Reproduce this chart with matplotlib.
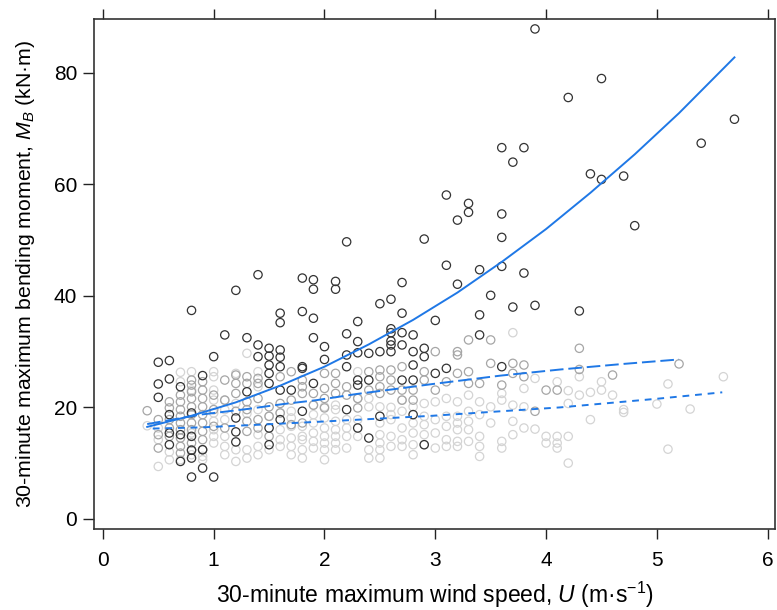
import numpy as np
import matplotlib
matplotlib.use('Agg')
import matplotlib.pyplot as plt

plt.rcParams['font.family'] = ['Liberation Sans', 'DejaVu Sans']
plt.rcParams['mathtext.fontset'] = 'custom'
plt.rcParams['mathtext.it'] = 'Liberation Sans:italic'
plt.rcParams['mathtext.rm'] = 'Liberation Sans'

# wind speed U (m/s), bending moment MB (kN m) - dark points
dark_pts = [
    (0.5, 28.1), (0.6, 28.4), (0.5, 24.2), (0.6, 25.1), (0.5, 21.8), (0.7, 23.7),
    (0.9, 25.7), (1.0, 29.1), (0.6, 13.3), (0.7, 10.3), (0.8, 10.9), (0.8, 7.5),
    (1.0, 7.5), (0.9, 9.1), (0.8, 37.4), (0.6, 18.7), (0.6, 15.4), (0.8, 14.8),
    (0.8, 12.3), (0.7, 15.1), (0.9, 12.4), (0.8, 19.0),
    (1.1, 33.0), (1.2, 41.0), (1.3, 32.5), (1.4, 43.8), (1.4, 31.2), (1.4, 29.1),
    (1.5, 30.6), (1.5, 29.2), (1.5, 27.6), (1.5, 26.1), (1.5, 24.3),
    (1.6, 36.9), (1.6, 35.2), (1.6, 30.3), (1.6, 29.0), (1.6, 27.3), (1.6, 23.1),
    (1.6, 17.8), (1.3, 22.8), (1.2, 18.1), (1.2, 15.6), (1.2, 13.8), (1.5, 16.3),
    (1.5, 13.3), (1.7, 23.1),
    (1.8, 43.2), (1.8, 37.2), (1.8, 27.3), (1.8, 27.0), (1.8, 19.3),
    (1.9, 42.9), (1.9, 41.2), (1.9, 36.0), (1.9, 32.5), (1.9, 24.3),
    (2.0, 30.9), (2.0, 28.6), (2.1, 42.6), (2.1, 41.2),
    (2.2, 49.7), (2.2, 33.2), (2.2, 29.4), (2.2, 27.3), (2.2, 19.6),
    (2.3, 35.4), (2.3, 31.8), (2.3, 29.8), (2.3, 24.9), (2.3, 24.0), (2.3, 16.3),
    (2.4, 29.7), (2.4, 24.9), (2.4, 14.5),
    (2.5, 38.6), (2.5, 30.0), (2.5, 18.4),
    (2.6, 39.4), (2.6, 34.1), (2.6, 33.4), (2.6, 31.9), (2.6, 31.2), (2.6, 30.0),
    (2.7, 42.4), (2.7, 36.9), (2.7, 33.4), (2.7, 31.2), (2.7, 24.9),
    (2.8, 33.0), (2.8, 30.0), (2.8, 27.6), (2.8, 24.9), (2.8, 18.7),
    (2.9, 50.2), (2.9, 30.6), (2.9, 29.1), (2.9, 13.3),
    (3.0, 35.6), (3.0, 26.1), (3.1, 58.1), (3.1, 45.5), (3.1, 27.0),
    (3.2, 53.6), (3.2, 42.1), (3.3, 56.6), (3.3, 55.0),
    (3.4, 44.7), (3.4, 36.6), (3.4, 33.0), (3.5, 40.1),
    (3.6, 66.6), (3.6, 54.7), (3.6, 50.5), (3.6, 45.3), (3.6, 27.3),
    (3.7, 64.0), (3.7, 38.0), (3.8, 66.6), (3.8, 44.1), (3.9, 87.9), (3.9, 38.3),
    (4.2, 75.6), (4.3, 37.3), (4.4, 61.9), (4.5, 79.0), (4.5, 60.9), (4.7, 61.5),
    (4.8, 52.6), (5.4, 67.4), (5.7, 71.7),
]

# medium grey points
mid_pts = [
    (0.4, 19.4), (0.5, 17.8), (0.5, 15.1), (0.5, 12.7),
    (0.6, 21.0), (0.6, 19.9), (0.6, 17.8), (0.6, 16.3), (0.6, 14.8),
    (0.7, 22.2), (0.7, 21.0), (0.7, 19.6), (0.7, 18.4), (0.7, 17.2), (0.7, 16.0),
    (0.7, 14.5), (0.7, 13.0), (0.7, 11.8),
    (0.8, 24.9), (0.8, 24.0), (0.8, 22.8), (0.8, 21.6), (0.8, 20.1), (0.8, 18.7),
    (0.8, 17.2), (0.8, 16.0), (0.8, 13.6), (0.8, 12.4),
    (0.9, 24.6), (0.9, 23.1), (0.9, 21.6), (0.9, 20.1), (0.9, 18.7), (0.9, 17.2),
    (0.9, 15.7), (0.9, 14.2), (0.9, 12.4),
    (1.0, 22.2), (1.0, 19.6), (1.0, 16.6), (1.1, 24.9), (1.1, 21.3), (1.1, 16.3),
    (1.2, 25.8), (1.2, 24.3), (1.2, 22.5), (1.2, 19.3),
    (1.3, 25.5), (1.3, 24.3), (1.3, 21.0), (1.3, 19.6), (1.3, 17.5), (1.3, 15.7),
    (1.4, 25.2), (1.4, 24.3), (1.4, 21.6), (1.4, 17.8), (1.4, 16.3),
    (1.5, 20.1), (1.5, 18.4), (1.5, 14.8), (1.6, 25.5), (1.6, 20.7), (1.6, 19.0),
    (1.7, 26.4), (1.7, 21.3), (1.7, 16.9), (1.8, 24.9), (1.8, 23.7), (1.8, 22.5),
    (1.8, 17.2), (1.9, 22.5), (1.9, 20.4), (2.0, 26.1), (2.0, 23.4), (2.0, 21.6),
    (2.0, 19.9), (2.1, 26.1), (2.1, 24.3), (2.1, 22.5), (2.2, 23.7), (2.2, 22.2),
    (2.3, 21.6), (2.3, 19.9), (2.4, 26.4), (2.4, 23.1),
    (2.5, 26.7), (2.5, 25.5), (2.5, 23.7), (2.5, 22.5), (2.6, 26.7), (2.6, 24.9),
    (2.6, 23.1), (2.7, 27.3), (2.7, 23.1), (2.7, 21.3), (2.8, 23.1), (2.8, 21.3),
    (2.9, 26.4), (2.9, 24.9), (3.0, 30.0), (3.0, 23.1), (3.1, 24.6),
    (3.2, 30.0), (3.2, 29.4), (3.2, 26.1), (3.3, 32.1), (3.3, 26.4), (3.3, 24.3),
    (3.4, 24.3), (3.5, 32.1), (3.5, 27.9), (3.6, 24.0), (3.7, 27.9), (3.7, 26.1),
    (3.8, 27.6), (3.8, 25.5), (3.9, 19.3), (4.0, 23.1), (4.1, 23.1),
    (4.3, 30.6), (4.3, 26.8), (4.6, 25.8), (5.2, 27.8),
]

# light grey points
light_pts = [
    (0.4, 16.7), (0.5, 16.3), (0.5, 14.2), (0.5, 9.4), (0.6, 10.6), (0.6, 12.0),
    (0.7, 26.3), (0.7, 24.6), (0.7, 10.6), (0.8, 26.4), (0.8, 23.1), (0.8, 15.4),
    (0.8, 11.5), (0.9, 11.2), (0.9, 10.6),
    (1.0, 26.4), (1.0, 25.5), (1.0, 23.1), (1.0, 21.3), (1.0, 19.0), (1.0, 17.5),
    (1.0, 16.0), (1.0, 14.8), (1.0, 13.6),
    (1.1, 21.3), (1.1, 19.6), (1.1, 17.8), (1.1, 14.8), (1.1, 13.0), (1.1, 11.5),
    (1.2, 26.1), (1.2, 20.7), (1.2, 12.4), (1.2, 10.3),
    (1.3, 29.7), (1.3, 18.9), (1.3, 12.4), (1.3, 10.9),
    (1.4, 26.4), (1.4, 23.7), (1.4, 19.6), (1.4, 15.1), (1.4, 13.0), (1.4, 11.5),
    (1.5, 18.4), (1.5, 12.4), (1.6, 19.0), (1.6, 16.0), (1.6, 14.2), (1.6, 13.0),
    (1.7, 19.3), (1.7, 18.1), (1.7, 16.6), (1.7, 14.5), (1.7, 13.0), (1.7, 11.5),
    (1.8, 16.6), (1.8, 14.8), (1.8, 14.2), (1.8, 12.4), (1.8, 10.9),
    (1.9, 20.4), (1.9, 18.7), (1.9, 17.2), (1.9, 15.4), (1.9, 13.9), (1.9, 12.7),
    (2.0, 20.1), (2.0, 18.1), (2.0, 16.3), (2.0, 14.8), (2.0, 13.6), (2.0, 12.4),
    (2.0, 10.6), (2.1, 20.4), (2.1, 19.6), (2.1, 17.5), (2.1, 16.0), (2.1, 14.8),
    (2.1, 13.6), (2.1, 12.4), (2.2, 17.8), (2.2, 16.3), (2.2, 14.8), (2.2, 12.7),
    (2.3, 26.4), (2.3, 21.6), (2.3, 17.8), (2.3, 14.8),
    (2.4, 21.6), (2.4, 20.1), (2.4, 12.4), (2.4, 10.9),
    (2.5, 20.1), (2.5, 17.2), (2.5, 15.1), (2.5, 13.6), (2.5, 12.4), (2.5, 10.9),
    (2.6, 20.0), (2.6, 18.7), (2.6, 17.8), (2.6, 14.8), (2.6, 13.0),
    (2.7, 21.3), (2.7, 19.3), (2.7, 16.3), (2.7, 14.2), (2.7, 13.0),
    (2.8, 20.1), (2.8, 17.2), (2.8, 15.4), (2.8, 13.3), (2.8, 11.5),
    (2.9, 20.7), (2.9, 18.4), (2.9, 16.9), (2.9, 15.1), (2.9, 13.3),
    (3.0, 21.0), (3.0, 17.8), (3.0, 15.4), (3.0, 12.7),
    (3.1, 21.6), (3.1, 18.4), (3.1, 16.6), (3.1, 14.2), (3.1, 13.0),
    (3.2, 21.0), (3.2, 18.4), (3.2, 17.2), (3.2, 16.0), (3.2, 13.9), (3.2, 13.0),
    (3.3, 22.2), (3.3, 19.3), (3.3, 17.5), (3.3, 16.0), (3.3, 13.9),
    (3.4, 21.0), (3.4, 18.7), (3.4, 14.8), (3.4, 13.0), (3.4, 11.2),
    (3.5, 20.1), (3.5, 17.2), (3.6, 22.5), (3.6, 21.3), (3.6, 13.9), (3.6, 12.7),
    (3.7, 33.4), (3.7, 20.4), (3.7, 17.5), (3.7, 15.1), (3.8, 23.4), (3.8, 20.1),
    (3.8, 16.3), (3.9, 25.2), (3.9, 16.1), (4.0, 14.8), (4.0, 13.6),
    (4.1, 24.6), (4.1, 14.8), (4.1, 13.6), (4.1, 12.7),
    (4.2, 23.0), (4.2, 20.7), (4.2, 14.8), (4.2, 10.0), (4.3, 25.5), (4.3, 22.2),
    (4.4, 22.7), (4.4, 17.8), (4.5, 24.6), (4.5, 23.1), (4.6, 22.2),
    (4.7, 19.6), (4.7, 19.1), (5.0, 20.6), (5.1, 24.2), (5.1, 12.5),
    (5.3, 19.7), (5.6, 25.5),
]

# fitted curves
solid_u = [0.4, 0.8, 1.2, 1.6, 2.0, 2.4, 2.8, 3.2, 3.6, 4.0, 4.4, 4.8, 5.2, 5.7]
solid_m = [16.5, 18.5, 20.9, 23.9, 27.3, 31.3, 35.7, 40.6, 46.1, 52.0, 58.5, 65.4, 72.8, 82.8]
long_u = [0.4, 0.88, 1.3, 1.63, 1.93, 2.29, 2.68, 2.98, 3.59, 4.13, 4.7, 5.2]
long_m = [17.0, 18.7, 19.7, 20.6, 21.3, 22.4, 23.4, 24.2, 25.7, 26.8, 27.8, 28.6]
short_u = [0.45, 0.88, 1.42, 1.93, 2.41, 2.98, 3.59, 4.13, 5.03, 5.59]
short_m = [16.2, 16.4, 16.9, 17.4, 17.9, 18.5, 19.3, 20.0, 21.6, 22.7]

fig = plt.figure(figsize=(7.77, 6.10), dpi=100)
ax = fig.add_axes([0.121, 0.133, 0.877, 0.836])

for pts, col in [(light_pts, '#d4d4d4'), (mid_pts, '#a6a6a6'), (dark_pts, '#333333')]:
    u, m = zip(*pts)
    ax.scatter(u, m, s=36, facecolors='none', edgecolors=col, linewidths=0.9, zorder=2)

blue = '#1f78e6'
ax.plot(solid_u, solid_m, color=blue, lw=1.4, zorder=3)
ax.plot(long_u, long_m, color=blue, lw=1.4, dashes=(7, 2.5), zorder=3)
ax.plot(short_u, short_m, color=blue, lw=1.4, dashes=(3.5, 3), zorder=3)

ax.set_xlim(-0.08, 6.07)
ax.set_ylim(-1.8, 89.7)
ax.set_xticks(range(7))
ax.set_yticks([0, 20, 40, 60, 80])
ax.tick_params(axis='x', which='both', top=True, labeltop=False, direction='out',
               length=7, width=1, pad=9, labelsize=15, color='#222222')
ax.tick_params(axis='y', direction='out', length=8, width=1, pad=4,
               labelsize=15, color='#222222')
for sp in ax.spines.values():
    sp.set_linewidth(1.2)
    sp.set_color('#333333')

ax.set_xlabel('30-minute maximum wind speed, $\\mathit{U}$ (m·s$^{\\mathrm{-1}}$)',
              fontsize=16.5, labelpad=7)
ax.set_ylabel('30-minute maximum bending moment, $\\mathit{M_B}$ (kN·m)',
              fontsize=15.3, labelpad=12)

fig.savefig('out.png', dpi=100)
